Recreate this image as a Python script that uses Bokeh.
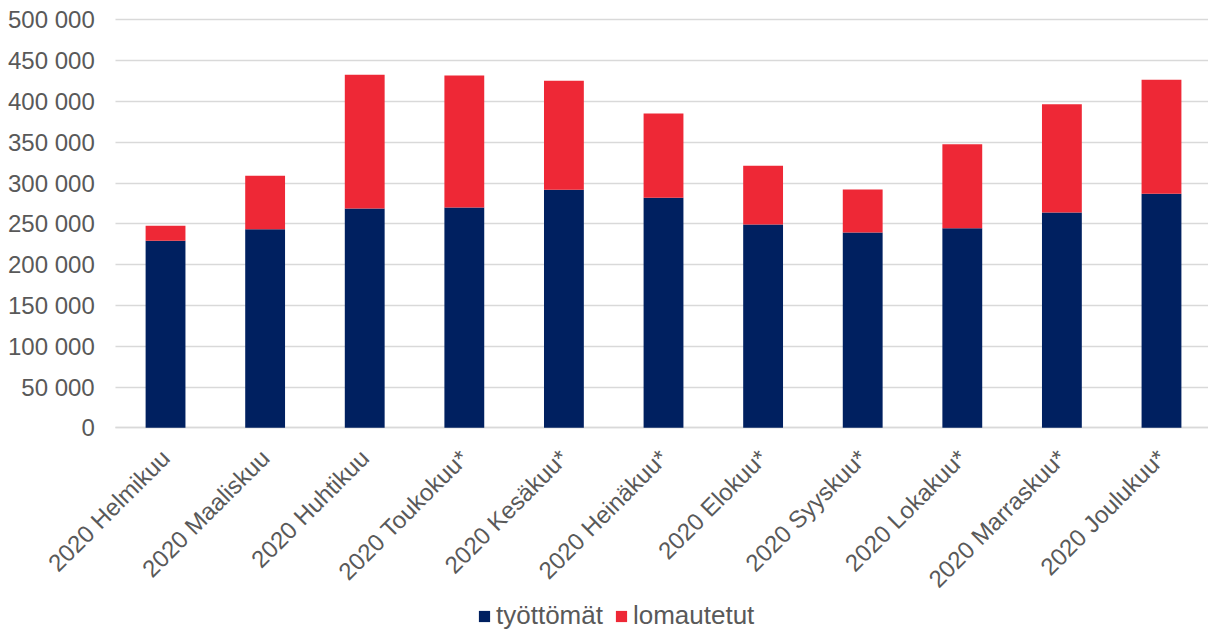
from bokeh.plotting import figure
from bokeh.models import ColumnDataSource, FixedTicker, CustomJSTickFormatter, Legend, LegendItem, Range1d
from bokeh.embed import file_html
from bokeh.resources import INLINE
import math

months = ["2020 Helmikuu", "2020 Maaliskuu", "2020 Huhtikuu", "2020 Toukokuu*",
          "2020 Kesäkuu*", "2020 Heinäkuu*", "2020 Elokuu*", "2020 Syyskuu*",
          "2020 Lokakuu*", "2020 Marraskuu*", "2020 Joulukuu*"]
tyottomat = [229300, 243500, 268900, 270000, 291800, 282000, 249300, 239500, 244700, 264000, 286900]
lomautetut = [18400, 65500, 164100, 162000, 133600, 103400, 71900, 52700, 103000, 132800, 139800]
y_ticks = [0, 50000, 100000, 150000, 200000, 250000, 300000, 350000, 400000, 450000, 500000]

series = ["työttömät", "lomautetut"]
colors = ["#002060", "#EE2836"]
FONT = "Liberation Sans"
GREY = "#595959"
GRID = "#D9D9D9"

xpos = [i + 0.5 for i in range(len(months))]
src = ColumnDataSource(dict(x=xpos, month=months, **{"työttömät": tyottomat, "lomautetut": lomautetut}))

# whole page is the frame; axes are pinned inside it so nothing gets clipped
p = figure(x_range=Range1d(-1.157, 10.972), y_range=Range1d(-249750, 523900),
           frame_width=1208, frame_height=631, output_backend="svg", toolbar_location=None,
           min_border_left=0, min_border_right=0, min_border_top=0, min_border_bottom=0)

r = p.vbar_stack(series, x="x", width=0.4, color=colors, line_color=None, source=src)

p.outline_line_color = None
p.background_fill_color = "white"
p.border_fill_color = "white"
p.xgrid.grid_line_color = None
p.ygrid.grid_line_color = None

# y axis: its inward ticks act as the horizontal gridlines (drawn under the bars)
p.yaxis.level = "underlay"
p.yaxis.fixed_location = 0
p.yaxis.bounds = (0, 500000)
p.yaxis.ticker = FixedTicker(ticks=y_ticks)
p.yaxis.formatter = CustomJSTickFormatter(code="""
return Math.round(tick).toString().replace(/\\B(?=(\\d{3})+(?!\\d))/g, " ");
""")
p.yaxis.axis_line_color = None
p.yaxis.major_tick_in = 1095
p.yaxis.major_tick_out = 0
p.yaxis.major_tick_line_color = GRID
p.yaxis.major_tick_line_width = 1.5
p.yaxis.minor_tick_line_color = None
p.yaxis.major_label_standoff = 21
p.yaxis.major_label_text_font = FONT
p.yaxis.major_label_text_font_size = "24px"
p.yaxis.major_label_text_color = GREY

p.xaxis.level = "underlay"
p.xaxis.fixed_location = 0
p.xaxis.bounds = (0, len(months))
p.xaxis.ticker = FixedTicker(ticks=xpos)
p.xaxis.major_label_overrides = {x: m for x, m in zip(xpos, months)}
p.xaxis.axis_line_color = GRID
p.xaxis.axis_line_width = 1.5
p.xaxis.major_tick_line_color = None
p.xaxis.minor_tick_line_color = None
p.xaxis.major_label_orientation = math.pi / 4
p.xaxis.major_label_standoff = 20
p.xaxis.major_label_text_font = FONT
p.xaxis.major_label_text_font_size = "24px"
p.xaxis.major_label_text_color = GREY

legend = Legend(items=[LegendItem(label=s, renderers=[rr]) for s, rr in zip(series, r)],
                orientation="horizontal", location=(477, 0),
                label_text_font=FONT, label_text_font_size="26px", label_text_color=GREY,
                glyph_width=14, glyph_height=14, label_standoff=5, spacing=11,
                padding=0, margin=0, border_line_color=None, background_fill_alpha=0)
p.add_layout(legend, "center")

open("out.html", "w").write(file_html(p, INLINE))
